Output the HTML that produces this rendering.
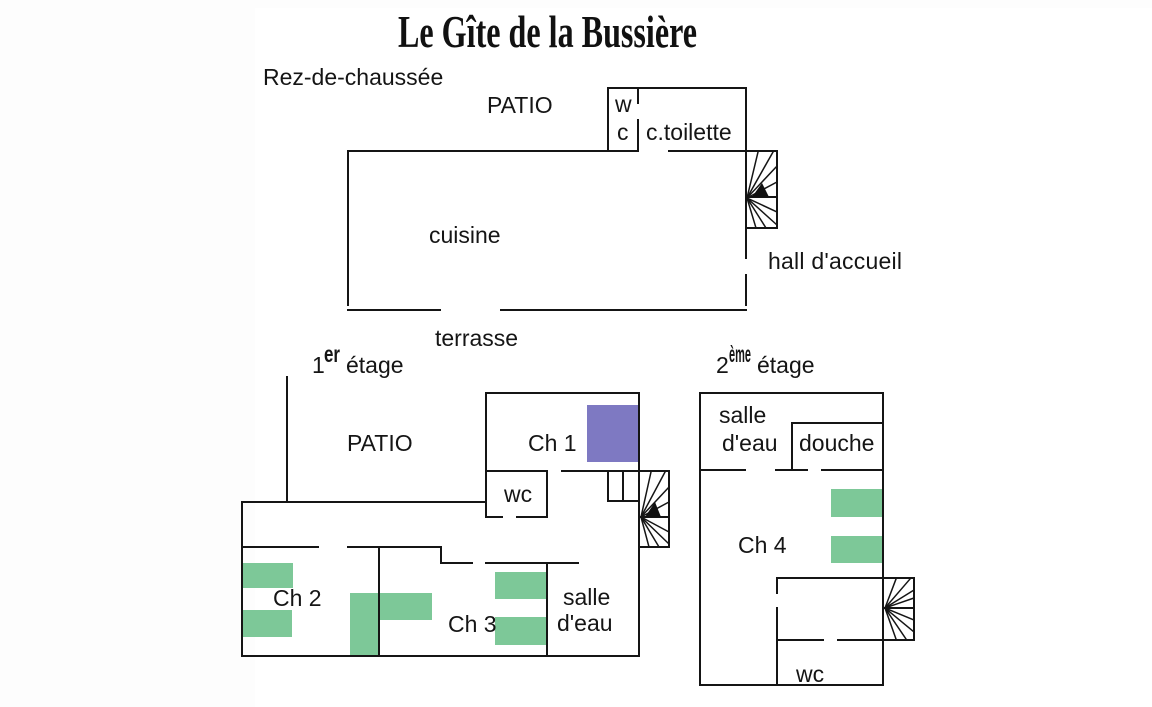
<!DOCTYPE html>
<html><head><meta charset="utf-8"><style>
html,body{margin:0;padding:0;background:#fdfdfd;}
svg{display:block;}
text{font-family:"Liberation Sans",Arial,sans-serif;fill:#151515;font-size:23px;}
.t{font-family:"Liberation Serif",serif;font-weight:bold;font-size:46px;fill:#111;}
</style></head><body>
<svg width="1152" height="707" viewBox="0 0 1152 707" xmlns="http://www.w3.org/2000/svg">
<rect x="0" y="0" width="1152" height="707" fill="#fdfdfd"/>
<rect x="255" y="8" width="897" height="699" fill="#ffffff"/>
<text class="t" x="398" y="47" textLength="299" lengthAdjust="spacingAndGlyphs">Le Gîte de la Bussière</text>

<g stroke="#151515" stroke-width="2" fill="none" stroke-linecap="square">
<!-- Ground floor -->
<line x1="348" y1="151" x2="638" y2="151"/>
<line x1="669" y1="151" x2="777" y2="151"/>
<line x1="348" y1="151" x2="348" y2="305"/>
<line x1="348" y1="310" x2="440" y2="310"/>
<line x1="501" y1="310" x2="746" y2="310"/>
<line x1="746" y1="88" x2="746" y2="258"/>
<line x1="746" y1="275" x2="746" y2="305"/>
<line x1="608" y1="88" x2="746" y2="88"/>
<line x1="608" y1="88" x2="608" y2="151"/>
<line x1="638" y1="88" x2="638" y2="103"/>
<line x1="638" y1="120" x2="638" y2="151"/>
<!-- stair GF -->
<line x1="777" y1="151" x2="777" y2="228"/>
<line x1="746" y1="228" x2="777" y2="228"/>
<line x1="746" y1="197" x2="777" y2="197"/>
<g stroke-width="1.5">
<line x1="747" y1="198" x2="758" y2="152"/>
<line x1="747" y1="198" x2="773" y2="152"/>
<line x1="747" y1="198" x2="777" y2="166"/>
<line x1="747" y1="198" x2="777" y2="182"/>
<line x1="747" y1="198" x2="777" y2="212"/>
<line x1="747" y1="198" x2="777" y2="225"/>
<line x1="747" y1="198" x2="766" y2="228"/>
<line x1="747" y1="198" x2="756" y2="228"/>
</g>

<!-- First floor -->
<line x1="287" y1="377" x2="287" y2="502"/>
<line x1="242" y1="502" x2="486" y2="502"/>
<line x1="242" y1="502" x2="242" y2="656"/>
<line x1="242" y1="656" x2="639" y2="656"/>
<line x1="639" y1="393" x2="639" y2="656"/>
<line x1="486" y1="393" x2="639" y2="393"/>
<line x1="486" y1="393" x2="486" y2="517"/>
<line x1="486" y1="471" x2="547" y2="471"/>
<line x1="562" y1="471" x2="669" y2="471"/>
<line x1="547" y1="471" x2="547" y2="517"/>
<line x1="486" y1="517" x2="502" y2="517"/>
<line x1="517" y1="517" x2="547" y2="517"/>
<line x1="608" y1="471" x2="608" y2="501"/>
<line x1="623" y1="471" x2="623" y2="501"/>
<line x1="608" y1="501" x2="639" y2="501"/>
<!-- stair 1F -->
<line x1="669" y1="471" x2="669" y2="547"/>
<line x1="639" y1="547" x2="669" y2="547"/>
<line x1="639" y1="517" x2="669" y2="517"/>
<g stroke-width="1.5">
<line x1="641" y1="517" x2="651" y2="472"/>
<line x1="641" y1="517" x2="665" y2="472"/>
<line x1="641" y1="517" x2="669" y2="487"/>
<line x1="641" y1="517" x2="669" y2="502"/>
<line x1="641" y1="517" x2="669" y2="532"/>
<line x1="641" y1="517" x2="669" y2="544"/>
<line x1="641" y1="517" x2="659" y2="547"/>
<line x1="641" y1="517" x2="649" y2="547"/>
</g>
<!-- hallway walls -->
<line x1="242" y1="547" x2="318" y2="547"/>
<line x1="348" y1="547" x2="441" y2="547"/>
<line x1="441" y1="547" x2="441" y2="563"/>
<line x1="441" y1="563" x2="472" y2="563"/>
<line x1="486" y1="563" x2="578" y2="563"/>
<line x1="379" y1="547" x2="379" y2="656"/>
<line x1="547" y1="563" x2="547" y2="656"/>

<!-- Second floor -->
<line x1="700" y1="393" x2="883" y2="393"/>
<line x1="700" y1="393" x2="700" y2="685"/>
<line x1="883" y1="393" x2="883" y2="685"/>
<line x1="700" y1="685" x2="883" y2="685"/>
<line x1="792" y1="423" x2="883" y2="423"/>
<line x1="792" y1="423" x2="792" y2="470"/>
<line x1="700" y1="470" x2="745" y2="470"/>
<line x1="776" y1="470" x2="807" y2="470"/>
<line x1="822" y1="470" x2="883" y2="470"/>
<line x1="777" y1="578" x2="914" y2="578"/>
<line x1="777" y1="578" x2="777" y2="593"/>
<line x1="777" y1="608" x2="777" y2="685"/>
<line x1="777" y1="640" x2="823" y2="640"/>
<line x1="838" y1="640" x2="914" y2="640"/>
<line x1="914" y1="578" x2="914" y2="640"/>
<line x1="883" y1="608" x2="914" y2="608"/>
<g stroke-width="1.5">
<line x1="885" y1="608" x2="896" y2="579"/>
<line x1="885" y1="608" x2="910" y2="579"/>
<line x1="885" y1="608" x2="914" y2="590"/>
<line x1="885" y1="608" x2="914" y2="598"/>
<line x1="885" y1="608" x2="914" y2="620"/>
<line x1="885" y1="608" x2="914" y2="632"/>
<line x1="885" y1="608" x2="906" y2="639"/>
<line x1="885" y1="608" x2="896" y2="639"/>
</g>
</g>

<!-- arrows -->
<polygon points="752,197 769,197 762,183" fill="#111"/>
<polygon points="645,517 661,517 655,502" fill="#111"/>

<!-- furniture -->
<rect x="587" y="405" width="51" height="57" fill="#7e79c2"/>
<g fill="#7dc898">
<rect x="243" y="563" width="50" height="25"/>
<rect x="243" y="610" width="49" height="27"/>
<rect x="350" y="593" width="28" height="62"/>
<rect x="380" y="593" width="52" height="27"/>
<rect x="495" y="572" width="51" height="27"/>
<rect x="495" y="617" width="51" height="28"/>
<rect x="831" y="489" width="51" height="28"/>
<rect x="831" y="536" width="51" height="27"/>
</g>

<!-- labels -->
<text x="263" y="85">Rez-de-chaussée</text>
<text x="487" y="113">PATIO</text>
<text x="615" y="112" font-size="21">w</text>
<text x="617" y="140" font-size="21">c</text>
<text x="646" y="140">c.toilette</text>
<text x="429" y="243">cuisine</text>
<text x="768" y="269" textLength="134" lengthAdjust="spacing">hall d'accueil</text>
<text x="435" y="346">terrasse</text>

<text x="312" y="373">1</text>
<text x="324" y="362" font-size="11" font-weight="bold" textLength="16" lengthAdjust="spacingAndGlyphs">er</text>
<text x="346" y="373">étage</text>
<text x="716" y="373">2</text>
<text x="729" y="362" font-size="10" font-weight="bold" textLength="22" lengthAdjust="spacingAndGlyphs">ème</text>
<text x="757" y="373">étage</text>

<text x="347" y="451">PATIO</text>
<text x="528" y="451">Ch 1</text>
<text x="504" y="502" font-size="21">wc</text>
<text x="273" y="606">Ch 2</text>
<text x="448" y="632">Ch 3</text>
<text x="563" y="605">salle</text>
<text x="557" y="631">d'eau</text>

<text x="719" y="423">salle</text>
<text x="722" y="451">d'eau</text>
<text x="799" y="451">douche</text>
<text x="738" y="553">Ch 4</text>
<text x="796" y="682" font-size="21">wc</text>
</svg>
</body></html>
